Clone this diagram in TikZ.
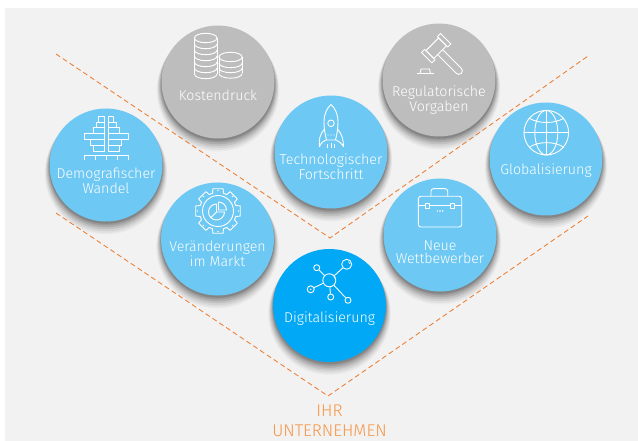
\documentclass[tikz,border=0pt]{standalone}
\usepackage{fontspec}
\setmainfont{Fira Sans}[UprightFont=* Light]
\usetikzlibrary{shadows}
\definecolor{pagegray}{RGB}{242, 242, 242}
\definecolor{bubblegray}{RGB}{189, 189, 189}
\definecolor{bubbleblue}{RGB}{109, 200, 243}
\definecolor{bubbledeep}{RGB}{0, 168, 245}
\definecolor{dashorange}{RGB}{237, 125, 49}
\definecolor{textorange}{RGB}{247, 150, 70}
\tikzset{
  softshadow/.style={
    general shadow={shadow yshift=-2pt, shadow scale=1.005, fill=black, opacity=.13},
    general shadow={shadow yshift=-3pt, shadow scale=1.015, fill=black, opacity=.11},
    general shadow={shadow yshift=-4pt, shadow scale=1.03, fill=black, opacity=.10},
    general shadow={shadow yshift=-5pt, shadow scale=1.045, fill=black, opacity=.08},
    general shadow={shadow yshift=-6pt, shadow scale=1.06, fill=black, opacity=.06},
    general shadow={shadow yshift=-7pt, shadow scale=1.07, fill=black, opacity=.04},
    general shadow={shadow yshift=-7.5pt, shadow scale=1.085, fill=black, opacity=.03}},
  bubble/.style={circle, minimum size=113pt, inner sep=0pt, softshadow},
  bubbletext/.style={text=white, align=center, font=\fontsize{14.2}{13.4}\selectfont, inner sep=0pt},
  icon/.style={draw=white, line width=.9pt, line join=round},
  netnode/.style={circle, icon, inner sep=0pt},
  vline/.style={draw=dashorange, line width=.85pt, dash pattern=on 5pt off 3.2pt}
}
\begin{document}
\begin{tikzpicture}[x=1pt, y=-1pt]
  \useasboundingbox (0,0) rectangle (638,441);
  \fill[pagegray] (5,8) rectangle (638,441);

  % bubbles
  \node[bubble, fill=bubblegray] (kosten) at (218,82) {};
  \node[bubble, fill=bubblegray] (regeln) at (439,80) {};
  \node[bubble, fill=bubbleblue] (demo) at (106,165) {};
  \node[bubble, fill=bubbleblue] (tech) at (331,152) {};
  \node[bubble, fill=bubbleblue] (global) at (546,159) {};
  \node[bubble, fill=bubbleblue] (markt) at (217.5,239) {};
  \node[bubble, fill=bubbleblue] (neue) at (440,235) {};
  \node[bubble, fill=bubbledeep] (digital) at (329.5,305.5) {};

  % texts
  \node[bubbletext] (kostentext) at (218,95) {Kostendruck};
  \node[bubbletext] (regelntext) at (439,100) {Regulatorische\\Vorgaben};
  \node[bubbletext] (demotext) at (106,181) {Demografischer\\Wandel};
  \node[bubbletext] (techtext) at (331,167) {Technologischer\\Fortschritt};
  \node[bubbletext] (globaltext) at (546,171) {Globalisierung};
  \node[bubbletext] (markttext) at (217.5,254) {Veränderungen\\im Markt};
  \node[bubbletext] (neuetext) at (440,252) {Neue\\Wettbewerber};
  \node[bubbletext] (digitaltext) at (329.5,318.5) {Digitalisierung};
  \node[text=textorange, align=center, inner sep=0pt, font=\fontsize{17}{20}\selectfont] (ihr) at (329.5,421) {IHR\\UNTERNEHMEN};

  % dashed v shapes
  \coordinate (upleft) at (56,54);
  \coordinate (uptip) at (330,238);
  \coordinate (upright) at (588,56);
  \coordinate (lowleft) at (56,213);
  \coordinate (lowtip) at (328,396);
  \coordinate (lowright) at (588,216);
  \draw[vline] (upleft) -- (uptip) -- (upright);
  \draw[vline] (lowleft) -- (lowtip) -- (lowright);

  % coins
  \draw[icon] (205.7,38) ellipse [x radius=11.3pt, y radius=4.7pt];
  \draw[icon] (194.4,38) -- (194.4,74) (217,38) -- (217,74);
  \foreach \y in {44,50,56,62,68,74}
    \draw[icon] (194.4,\y) arc [start angle=180, end angle=360, x radius=11.3pt, y radius=4.7pt];
  \draw[icon] (230.6,57) ellipse [x radius=11.6pt, y radius=4.7pt];
  \draw[icon] (219,57) -- (219,73.5) (242.2,57) -- (242.2,73.5);
  \foreach \y in {63,68,73.5}
    \draw[icon] (219,\y) arc [start angle=180, end angle=360, x radius=11.6pt, y radius=4.7pt];

  % gavel
  \begin{scope}[shift={(436.2,48.2)}, rotate=45]
    \draw[icon] (-9,-5.5) rectangle (9,5.5);
    \draw[icon] (-13.4,-7.3) rectangle (-9,7.3);
    \draw[icon] (9,-7.3) rectangle (13.4,7.3);
    \draw[icon, rounded corners=3.5pt] (-3.6,5.5) -- (-3.6,35.5) -- (3.6,35.5) -- (3.6,5.5);
  \end{scope}
  \draw[icon] (417,73.5) -- (433.5,73.5);
  \draw[icon] (420,73.5) -- (421,69) -- (429.5,69) -- (430.5,73.5);

  % population pyramid
  \foreach \w/\top/\bot in {5.6/116/122, 8.3/122/127.5, 11/127.5/133, 20/133/139.5, 13.6/139.5/145, 11/145/151} {
    \draw[icon] (104.4,\top) -- (104.4-\w,\top) -- (104.4-\w,\bot) -- (104.4,\bot) -- cycle;
    \draw[icon] (108.3,\top) -- (108.3+\w,\top) -- (108.3+\w,\bot) -- (108.3,\bot) -- cycle;
  }
  \draw[icon] (84.3,155.5) -- (128.5,155.5);
  \foreach \x in {84.3,95.4,106.4,117.5,128.5}
    \draw[icon] (\x,155.5) -- (\x,160);

  % rocket
  \draw[icon] (331,104.5) .. controls (327,108) and (324,114) .. (324,122) .. controls (324,128) and (325,134) .. (326.5,140) -- (335.5,140) .. controls (337,134) and (338,128) .. (338,122) .. controls (338,114) and (335,108) .. (331,104.5);
  \draw[icon] (331,123.3) circle (3.3pt);
  \draw[icon] (324.5,129) .. controls (320,134) and (318.5,140) .. (319.5,146.5) .. controls (321,143) and (323,141) .. (326,140);
  \draw[icon] (337.5,129) .. controls (342,134) and (343.5,140) .. (343.5,146.5) .. controls (341,143) and (339,141) .. (336,140);
  \foreach \x in {328,331,334}
    \fill[white] (\x,135) circle (.7pt);
  \draw[icon] (327.7,144.5) -- (327.7,148) (331,143.5) -- (331,148.5) (334.3,144.5) -- (334.3,148);

  % globe
  \draw[icon] (546.3,132.7) circle (22.3pt);
  \draw[icon] (546.3,132.7) ellipse [x radius=11.5pt, y radius=22.3pt];
  \draw[icon] (524,132.7) -- (568.6,132.7) (546.3,110.4) -- (546.3,155);
  \draw[icon] (529,118) .. controls (538,124) and (555,124) .. (564,118);
  \draw[icon] (529,147.5) .. controls (538,141) and (555,141) .. (564,147.5);

  % gear
  \begin{scope}[shift={(218,211)}]
    \draw[icon] (-13:22.8pt) \foreach \a in {0,45,...,315} {
      -- ({\a-13}:22.8pt) -- ({\a+13}:22.8pt) -- ({\a+17}:18.6pt) -- ({\a+28}:18.6pt) } -- cycle;
    \foreach \a in {0,45,...,315}
      \fill[white] (\a:20.6pt) circle (.8pt);
    \draw[icon] (0,0) circle (15.5pt);
    \draw[icon] (-1.5,1) ++(0,-8) arc [start angle=90, end angle=360, radius=8pt] -- (-1.5,1) -- cycle;
    \draw[icon] (-1.5,1) -- +(225:8pt);
    \draw[icon] (0.5,-1) ++(8,0) arc [start angle=0, end angle=90, radius=8pt] -- (0.5,-1) -- cycle;
  \end{scope}

  % briefcase
  \draw[icon, rounded corners=2.5pt] (418.3,196.3) rectangle (461.7,227);
  \draw[icon, rounded corners=2.5pt] (431,196.3) -- (431,188.7) -- (447.7,188.7) -- (447.7,196.3);
  \draw[icon] (418.3,205) -- (425,205) (429,205) -- (450.7,205) (454.7,205) -- (461.7,205);
  \draw[icon] (425,203) rectangle (429,208);
  \draw[icon] (450.7,203) rectangle (454.7,208);
  \foreach \x in {437.3,440,442.7}
    \fill[white] (\x,211) circle (.8pt);

  % network
  \node[netnode, minimum size=13pt] (netmid) at (329.3,280.3) {};
  \node[netnode, minimum size=10pt] (nettopright) at (346.7,264.3) {};
  \node[netnode, minimum size=6pt] (nettopleft) at (316.7,267.7) {};
  \node[netnode, minimum size=7pt] (netleft) at (310.7,289.3) {};
  \node[netnode, minimum size=6pt] (netbottom) at (330.7,297) {};
  \node[netnode, minimum size=6pt] (netright) at (348,300.3) {};
  \foreach \n in {nettopright,nettopleft,netleft,netbottom,netright}
    \draw[icon] (netmid) -- (\n);
  \fill[white] (netleft) circle (.8pt);
  \draw[icon, line width=.6pt] (333.5,276.5) arc [start angle=60, end angle=0, radius=4pt];
  \draw[icon, line width=.6pt] (348.5,261.5) arc [start angle=60, end angle=0, radius=3pt];
\end{tikzpicture}
\end{document}
